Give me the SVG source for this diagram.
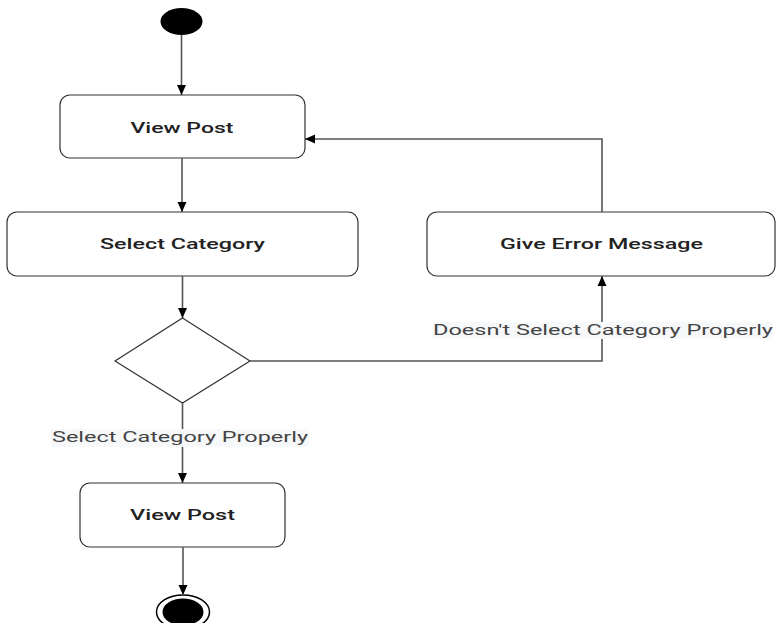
<svg xmlns="http://www.w3.org/2000/svg" width="776" height="623" viewBox="0 0 776 623">
<style>
.box{fill:#fff;stroke:#333;stroke-width:1.2}
.nt{font-family:Roboto,"Liberation Sans",sans-serif;font-size:15px;font-weight:500;fill:#222;text-anchor:middle}
.lt{font-family:Roboto,"Liberation Sans",sans-serif;font-size:15px;fill:#444;text-anchor:middle}
.edge{fill:none;stroke:#555;stroke-width:1.6}
.lbg{fill:#f7f8f9}
</style>
<defs>
<marker id="arr" markerUnits="userSpaceOnUse" markerWidth="12" markerHeight="10" refX="11" refY="5" orient="auto">
<path d="M1,0.5 L11,5 L1,9.5 z" fill="#000"/>
</marker>
</defs>
<g id="start"><ellipse cx="181.5" cy="21.5" rx="21" ry="13.5" fill="#000"/></g>
<g id="viewpost1"><rect class="box" x="60" y="95" width="245" height="63" rx="10"/><text class="nt" x="182" y="133" textLength="103" lengthAdjust="spacingAndGlyphs">View Post</text></g>
<g id="selectcategory"><rect class="box" x="7" y="212" width="351" height="64" rx="10"/><text class="nt" x="182.5" y="249" textLength="165" lengthAdjust="spacingAndGlyphs">Select Category</text></g>
<g id="giveerror"><rect class="box" x="427" y="212" width="348" height="64" rx="10"/><text class="nt" x="601.5" y="249" textLength="203" lengthAdjust="spacingAndGlyphs">Give Error Message</text></g>
<g id="decision"><path class="box" d="M182.5,318 L250,361 L182.5,403 L115,361 z"/></g>
<g id="viewpost2"><rect class="box" x="80" y="483" width="205" height="64" rx="10"/><text class="nt" x="182.5" y="520" textLength="105" lengthAdjust="spacingAndGlyphs">View Post</text></g>
<g id="end"><ellipse cx="183" cy="612" rx="26.5" ry="17" fill="#fff" stroke="#000" stroke-width="1.5"/><ellipse cx="183" cy="612" rx="20.5" ry="13.5" fill="#000"/></g>
<g id="connectors">
<path class="edge" d="M181.5,35 L181.5,95" marker-end="url(#arr)"/>
<path class="edge" d="M182,158 L182,212" marker-end="url(#arr)"/>
<path class="edge" d="M182.5,276 L182.5,318" marker-end="url(#arr)"/>
<path class="edge" d="M182.5,403 L182.5,483" marker-end="url(#arr)"/>
<path class="edge" d="M183,547 L183,595" marker-end="url(#arr)"/>
<path class="edge" d="M250,361 L602,361 L602,276" marker-end="url(#arr)"/>
<path class="edge" d="M602,212 L602,139 L305,139" marker-end="url(#arr)"/>
<rect class="lbg" x="433" y="322" width="340" height="17"/>
<text class="lt" x="603" y="335" textLength="340" lengthAdjust="spacingAndGlyphs">Doesn't Select Category Properly</text>
<rect class="lbg" x="51" y="429" width="258" height="18"/>
<text class="lt" x="180" y="442" textLength="256" lengthAdjust="spacingAndGlyphs">Select Category Properly</text>
</g>
</svg>
